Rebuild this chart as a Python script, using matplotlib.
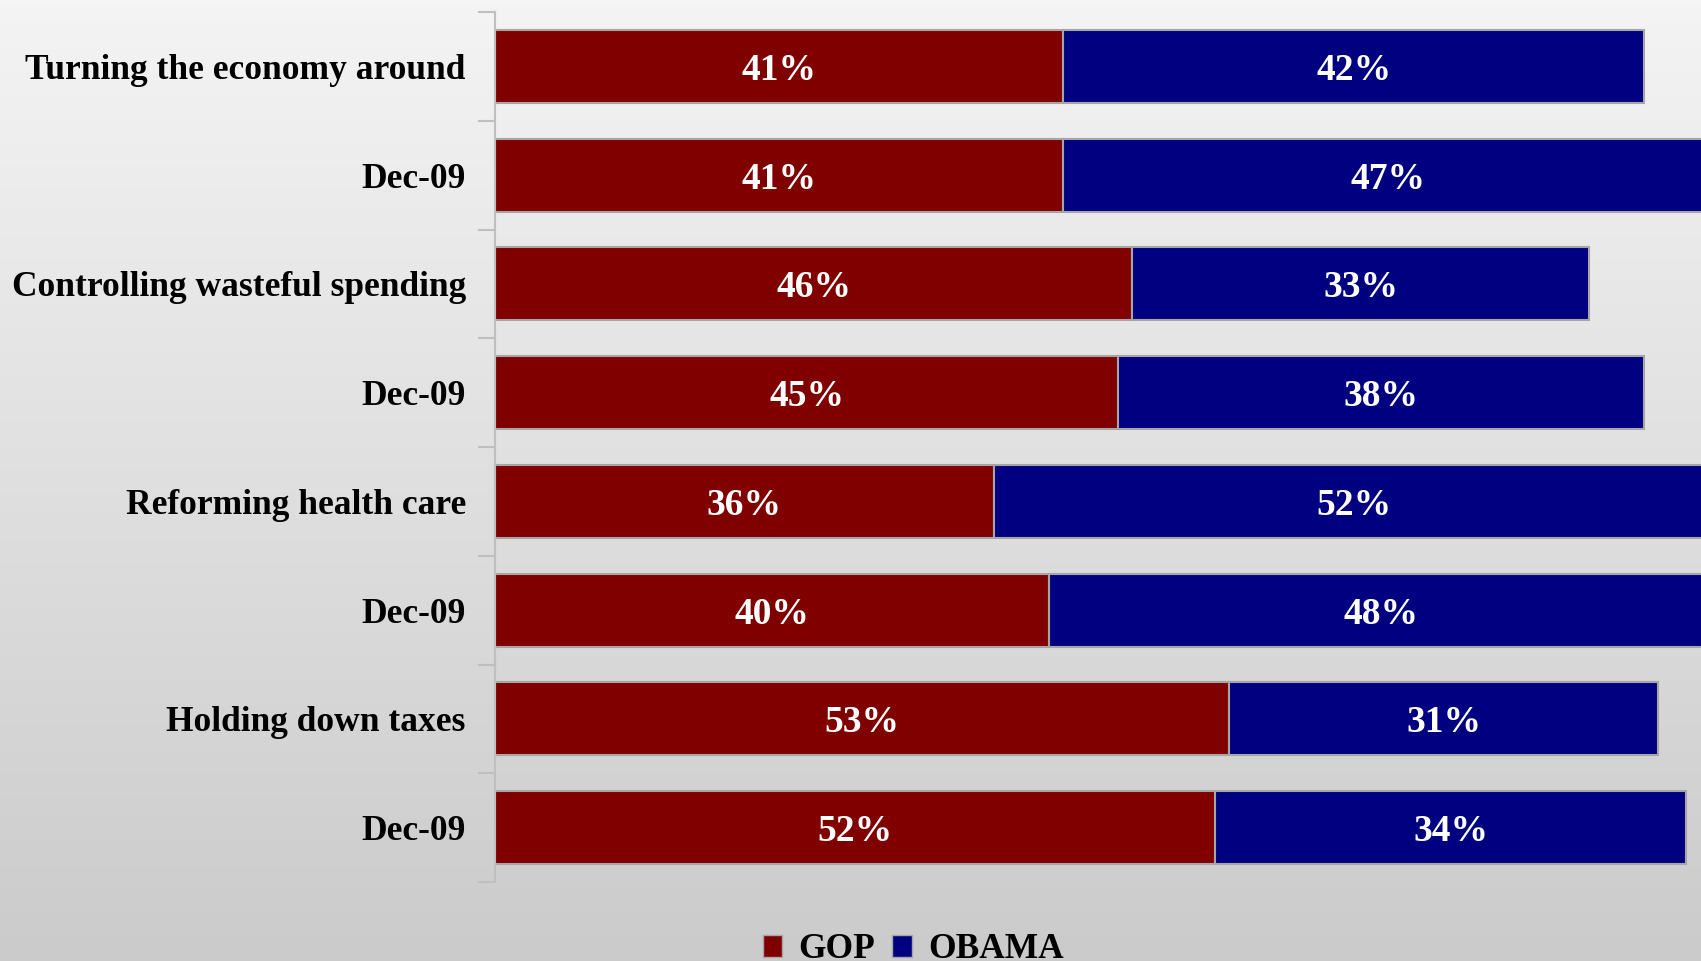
import numpy as np
import matplotlib
matplotlib.use('Agg')
import matplotlib.pyplot as plt
from matplotlib.patches import Patch

categories = ["Turning the economy around", "Dec-09",
              "Controlling wasteful spending", "Dec-09",
              "Reforming health care", "Dec-09",
              "Holding down taxes", "Dec-09"]
gop = [41, 41, 46, 45, 36, 40, 53, 52]
obama = [42, 47, 33, 38, 52, 48, 31, 34]
series_names = ["GOP", "OBAMA"]

GOP_COLOR = '#800000'
OBAMA_COLOR = '#000080'
EDGE = '#a6a6a6'

plt.rcParams['font.family'] = ['Liberation Serif', 'DejaVu Serif']
plt.rcParams['font.weight'] = 'bold'

fig = plt.figure(figsize=(17.01, 9.61), dpi=100)

# background gradient, light at top, grey at bottom
bg = fig.add_axes([0, 0, 1, 1], zorder=-10)
grad = np.linspace(0, 1, 256).reshape(-1, 1)
bg.imshow(grad, aspect='auto', cmap=matplotlib.colors.LinearSegmentedColormap.from_list(
    'bg', ['#f4f4f4', '#cbcbcb']), extent=[0, 1, 0, 1], origin='upper')
bg.axis('off')

ax = fig.add_axes([495 / 1701, 1 - 882 / 961, 1 - 495 / 1701, 870 / 961])
ax.patch.set_alpha(0)

y = np.arange(len(categories))
h = 0.67
ax.barh(y, gop, height=h, color=GOP_COLOR, edgecolor=EDGE, linewidth=1.5)
ax.barh(y, obama, left=gop, height=h, color=OBAMA_COLOR, edgecolor=EDGE, linewidth=1.5)

for i in range(len(categories)):
    ax.text(gop[i] / 2, i, f"{gop[i]}%", color='white', ha='center', va='center_baseline',
            fontsize=27, fontweight='bold')
    ax.text(gop[i] + obama[i] / 2, i, f"{obama[i]}%", color='white', ha='center',
            va='center_baseline', fontsize=27, fontweight='bold')

ax.set_xlim(0, 87.08)
ax.set_ylim(len(categories) - 0.5, -0.5)
ax.set_xticks([])
ax.set_yticks(y)
ax.set_yticklabels(categories, fontsize=25.5, fontweight='bold')
ax.set_yticks(np.arange(-0.5, len(categories)), minor=True)
ax.tick_params(axis='y', which='major', length=0, pad=21)
ax.tick_params(axis='y', which='minor', length=12, color='#bfbfbf', width=1.5)
for s in ['top', 'right', 'bottom']:
    ax.spines[s].set_visible(False)
ax.spines['left'].set_color('#bfbfbf')
ax.spines['left'].set_linewidth(1.5)

handles = [Patch(facecolor=GOP_COLOR, edgecolor=EDGE), Patch(facecolor=OBAMA_COLOR, edgecolor=EDGE)]
fig.legend(handles, series_names, loc='center', bbox_to_anchor=(913 / 1701, 1 - 950 / 961),
           ncol=2, frameon=False, fontsize=25.5, handlelength=0.55, handleheight=0.55,
           handletextpad=0.45, columnspacing=0.5)

fig.savefig('out.png', dpi=100)
